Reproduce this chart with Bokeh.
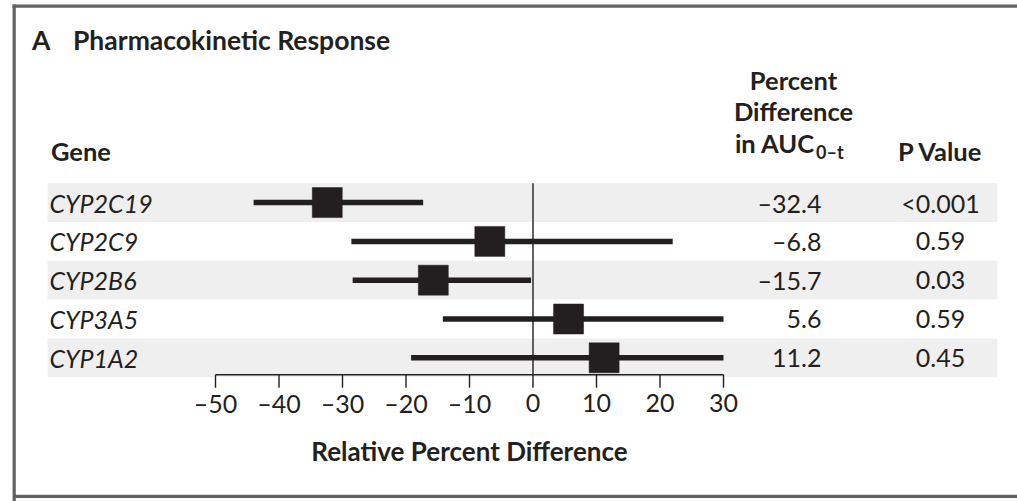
from bokeh.plotting import figure
from bokeh.models import Range1d
from bokeh.core.properties import value
from bokeh.embed import file_html
from bokeh.resources import INLINE

# --- data -------------------------------------------------------------
genes = ["CYP2C19", "CYP2C9", "CYP2B6", "CYP3A5", "CYP1A2"]
pct_diff = [-32.4, -6.8, -15.7, 5.6, 11.2]
ci_low = [-44.0, -28.6, -28.4, -14.2, -19.2]
ci_high = [-17.3, 22.0, -0.3, 30.0, 30.0]
p_values = ["<0.001", "0.59", "0.03", "0.59", "0.45"]
ticks = [-50, -40, -30, -20, -10, 0, 10, 20, 30]

DASH = "\u2013"


def fmt(v):
    s = f"{abs(v):.1f}" if isinstance(v, float) else f"{abs(v)}"
    return (DASH + s) if v < 0 else s


# --- layout (page pixels) --------------------------------------------
W, H = 1017, 501
INK = "#231f20"
BAND = "#efefef"
EDGE = "#616161"
FONT = value("Lato")


def at(baseline, size):
    """y anchor that puts the text's baseline at the given page row"""
    return baseline - 0.38 * size


ax_px_left, ax_px_right = 215.0, 723.0          # where -50 and 30 sit
ppu = (ax_px_right - ax_px_left) / (ticks[-1] - ticks[0])
pct_lo = ticks[0] - ax_px_left / ppu
pct_hi = ticks[0] + (W - ax_px_left) / ppu

row_top, row_h = 182.7, 38.8
row_y = [row_top + row_h * (i + 0.5) for i in range(len(genes))]
axis_y = row_top + row_h * len(genes) - 2.5

p = figure(width=W, height=H, x_range=Range1d(0, W), y_range=Range1d(H, 0),
           x_axis_location=None, y_axis_location=None, min_border=0,
           toolbar_location=None, output_backend="svg",
           outline_line_color=None, background_fill_color="white",
           border_fill_color="white")
p.xgrid.visible = False
p.ygrid.visible = False
p.extra_x_ranges = {"pct": Range1d(pct_lo, pct_hi)}

# frame lines (left, top, bottom)
p.segment(x0=[13.7, 12, 13.7], x1=[13.7, W, W], y0=[4, 5.6, 495.8],
          y1=[H, 5.6, 495.8], line_color=EDGE, line_width=3.2)

# alternating row bands
band_rows = [y for i, y in enumerate(row_y) if i % 2 == 0]
p.quad(left=47, right=997, top=[y - row_h / 2 for y in band_rows],
       bottom=[y + row_h / 2 for y in band_rows], fill_color=BAND,
       line_color=None)

# zero reference line
p.segment(x0=[0], x1=[0], y0=[row_top], y1=[axis_y], x_range_name="pct",
          line_color=INK, line_width=1.4)

# confidence intervals and point estimates
p.segment(x0=ci_low, x1=ci_high, y0=row_y, y1=row_y, x_range_name="pct",
          line_color=INK, line_width=5.5, line_cap="butt")
p.rect(x=pct_diff, y=row_y, width=30, height=30, width_units="screen",
       height_units="screen", x_range_name="pct", fill_color=INK,
       line_color=INK, line_width=0.5)

# x axis drawn on the percent scale
TICK_FS = 25
p.segment(x0=[ticks[0]], x1=[ticks[-1]], y0=[axis_y], y1=[axis_y],
          x_range_name="pct", line_color=INK, line_width=1.4)
p.segment(x0=ticks, x1=ticks, y0=[axis_y] * len(ticks),
          y1=[axis_y + 13] * len(ticks), x_range_name="pct",
          line_color=INK, line_width=1.4)
p.text(x=ticks, y=[at(411.5, TICK_FS)] * len(ticks),
       text=[fmt(t) for t in ticks], x_range_name="pct", text_font=FONT,
       text_font_size=f"{TICK_FS}px", text_color=INK, text_align="center",
       text_baseline="alphabetic")
p.text(x=[(ticks[0] + ticks[-1]) / 2], y=[at(460.5, 26)],
       text=["Relative Percent Difference"], x_range_name="pct",
       text_font=FONT, text_font_size="26px", text_font_style="bold",
       text_color=INK, text_align="center", text_baseline="alphabetic")

# panel title
TITLE_FS = 26.5
title = dict(text_font=FONT, text_font_size=f"{TITLE_FS}px",
             text_font_style="bold", text_color=INK,
             text_baseline="alphabetic")
p.text(x=[31.5], y=[at(49.3, TITLE_FS)], text=["A"], **title)
p.text(x=[72.5], y=[at(49.3, TITLE_FS)], text=["Pharmacokinetic Response"],
       **title)

# column headers
HDR_FS = 25.5
hdr = dict(text_font=FONT, text_font_size=f"{HDR_FS}px",
           text_font_style="bold", text_color=INK,
           text_baseline="alphabetic")
p.text(x=[50.5], y=[at(160, HDR_FS)], text=["Gene"], **hdr)
p.text(x=[793, 793], y=[at(88.8, HDR_FS), at(120, HDR_FS)],
       text=["Percent", "Difference"], text_align="center", **hdr)
p.text(x=[814.5], y=[at(152.5, HDR_FS)], text=["in AUC"],
       text_align="right", **hdr)
p.text(x=[815.5], y=[at(158.5, 18)], text=[DASH.join(["0", "t"])],
       text_font=FONT, text_font_size="18px", text_font_style="bold",
       text_color=INK, text_baseline="alphabetic")
p.text(x=[940], y=[at(160, HDR_FS)], text=["P Value"], text_align="center",
       **hdr)

# row labels and values
CELL_FS = 25
base = [at(y + 9.5, CELL_FS) for y in row_y]
cell = dict(text_font=FONT, text_font_size=f"{CELL_FS}px", text_color=INK,
            text_baseline="alphabetic")
p.text(x=[49] * len(genes), y=base, text=genes, text_font_style="italic",
       **cell)
p.text(x=[821] * len(genes), y=base, text=[fmt(v) for v in pct_diff],
       text_align="right", **cell)
p.text(x=[940] * len(genes), y=base, text=p_values, text_align="center",
       **cell)

open("out.html", "w").write(file_html(p, INLINE))
